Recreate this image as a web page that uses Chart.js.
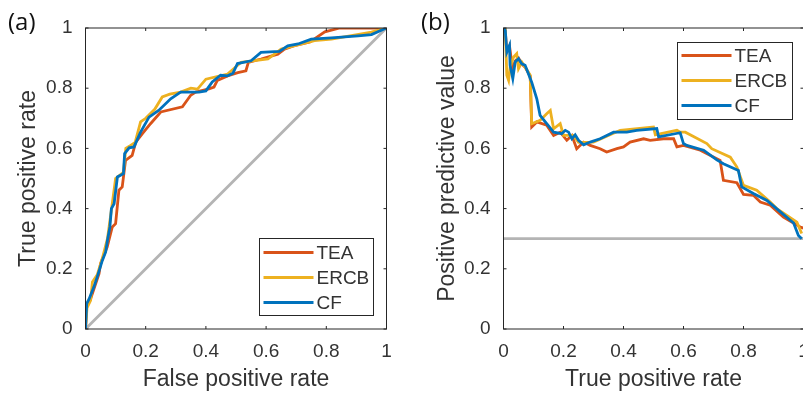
<!DOCTYPE html>
<html><head><meta charset="utf-8">
<script src="https://cdn.jsdelivr.net/npm/chart.js@4.4.0/dist/chart.umd.min.js"></script>
<style>
html,body{margin:0;padding:0;background:#fff;width:803px;height:396px;overflow:hidden;position:relative}
#ca{position:absolute;left:0;top:0}
#cb{position:absolute;left:400px;top:0}
.panel{position:absolute;font-family:"Open Sans",sans-serif;font-size:24px;line-height:1;color:#111}
</style></head>
<body>
<canvas id="ca" width="400" height="396"></canvas>
<canvas id="cb" width="410" height="396"></canvas>
<div class="panel" style="left:8px;top:9px">(a)</div>
<div class="panel" style="left:421px;top:9px">(b)</div>
<script>
// ---------- data ----------
const seriesNames = ['TEA', 'ERCB', 'CF'];
const tickLabels = ['0', '0.2', '0.4', '0.6', '0.8', '1'];

// (a) ROC curves: false positive rate (x) vs true positive rate (y)
const rocTeaX = [0, 0.004, 0.017, 0.045, 0.05, 0.061, 0.072, 0.089, 0.1, 0.111, 0.122, 0.133, 0.155, 0.167, 0.189, 0.216, 0.25, 0.322, 0.349, 0.366, 0.41, 0.427, 0.438, 0.472, 0.506, 0.533, 0.541, 0.583, 0.639, 0.661, 0.694, 0.746, 0.795, 0.845, 1];
const rocTeaY = [0, 0.08, 0.1, 0.184, 0.217, 0.245, 0.272, 0.339, 0.35, 0.461, 0.472, 0.56, 0.577, 0.621, 0.649, 0.682, 0.721, 0.738, 0.776, 0.787, 0.798, 0.804, 0.826, 0.841, 0.852, 0.858, 0.886, 0.897, 0.913, 0.93, 0.941, 0.954, 0.987, 1, 1];
const rocErcbX = [0, 0.005, 0.017, 0.023, 0.039, 0.056, 0.073, 0.089, 0.1, 0.126, 0.134, 0.15, 0.165, 0.183, 0.2, 0.23, 0.255, 0.28, 0.316, 0.35, 0.372, 0.4, 0.472, 0.517, 0.606, 0.65, 0.761, 0.817, 0.95, 1];
const rocErcbY = [0, 0.07, 0.095, 0.156, 0.18, 0.235, 0.3, 0.417, 0.5, 0.52, 0.6, 0.61, 0.62, 0.688, 0.7, 0.73, 0.771, 0.78, 0.787, 0.8, 0.797, 0.83, 0.847, 0.886, 0.897, 0.93, 0.958, 0.963, 0.986, 1];
const rocCfX = [0, 0.004, 0.012, 0.028, 0.039, 0.056, 0.067, 0.073, 0.081, 0.086, 0.095, 0.106, 0.126, 0.13, 0.145, 0.161, 0.183, 0.211, 0.244, 0.283, 0.316, 0.377, 0.4, 0.421, 0.449, 0.472, 0.49, 0.505, 0.55, 0.583, 0.644, 0.672, 0.706, 0.75, 0.817, 0.906, 0.95, 1];
const rocCfY = [0, 0.084, 0.1, 0.14, 0.173, 0.228, 0.256, 0.295, 0.339, 0.4, 0.416, 0.505, 0.516, 0.583, 0.602, 0.605, 0.654, 0.704, 0.727, 0.765, 0.787, 0.787, 0.791, 0.821, 0.843, 0.841, 0.85, 0.882, 0.891, 0.919, 0.922, 0.941, 0.947, 0.963, 0.967, 0.974, 0.978, 1];
const chanceX = [0, 1];
const chanceY = [0, 1];

// (b) precision-recall: true positive rate (x) vs positive predictive value (y)
const prTeaX = [0.002, 0.006, 0.011, 0.02, 0.031, 0.039, 0.05, 0.061, 0.072, 0.089, 0.094, 0.111, 0.144, 0.167, 0.189, 0.211, 0.228, 0.244, 0.267, 0.289, 0.322, 0.344, 0.378, 0.4, 0.422, 0.467, 0.489, 0.533, 0.567, 0.578, 0.6, 0.656, 0.711, 0.722, 0.733, 0.778, 0.8, 0.833, 0.856, 0.889, 0.933, 0.989, 1];
const prTeaY = [1.0, 0.99, 0.92, 0.94, 0.86, 0.89, 0.9, 0.88, 0.87, 0.84, 0.671, 0.688, 0.677, 0.643, 0.654, 0.627, 0.643, 0.599, 0.621, 0.61, 0.599, 0.588, 0.599, 0.605, 0.621, 0.632, 0.627, 0.632, 0.632, 0.605, 0.61, 0.594, 0.566, 0.56, 0.494, 0.486, 0.447, 0.444, 0.422, 0.411, 0.372, 0.339, 0.335];
const prErcbX = [0.002, 0.006, 0.011, 0.017, 0.022, 0.033, 0.044, 0.05, 0.061, 0.072, 0.089, 0.094, 0.122, 0.144, 0.156, 0.167, 0.189, 0.2, 0.233, 0.25, 0.3, 0.389, 0.5, 0.506, 0.578, 0.589, 0.606, 0.678, 0.694, 0.756, 0.778, 0.8, 0.844, 0.889, 0.911, 0.978, 0.994];
const prErcbY = [0.99, 1.0, 0.843, 0.826, 0.87, 0.903, 0.915, 0.865, 0.887, 0.87, 0.843, 0.682, 0.693, 0.715, 0.726, 0.665, 0.682, 0.643, 0.643, 0.62, 0.621, 0.66, 0.671, 0.645, 0.66, 0.654, 0.654, 0.616, 0.599, 0.571, 0.538, 0.477, 0.461, 0.422, 0.4, 0.355, 0.317];
const prCfX = [0.002, 0.006, 0.011, 0.02, 0.022, 0.031, 0.039, 0.05, 0.061, 0.072, 0.094, 0.111, 0.122, 0.144, 0.167, 0.194, 0.206, 0.217, 0.228, 0.239, 0.25, 0.267, 0.289, 0.322, 0.367, 0.411, 0.444, 0.511, 0.517, 0.589, 0.6, 0.611, 0.667, 0.711, 0.733, 0.783, 0.794, 0.833, 0.878, 0.922, 0.967, 0.983, 0.994];
const prCfY = [1.0, 0.992, 0.92, 0.942, 0.876, 0.832, 0.887, 0.898, 0.881, 0.876, 0.82, 0.765, 0.71, 0.682, 0.654, 0.649, 0.66, 0.654, 0.632, 0.645, 0.627, 0.612, 0.621, 0.632, 0.654, 0.654, 0.66, 0.666, 0.638, 0.652, 0.616, 0.61, 0.594, 0.562, 0.549, 0.527, 0.472, 0.45, 0.427, 0.39, 0.352, 0.311, 0.3];
const baselineX = [0, 1];
const baselineY = [0.3, 0.3];

// ---------- style ----------
const COLORS = ['#D95319', '#EDB120', '#0072BD'];
const GRAY = '#B4B4B4';
const AXIS = '#262626';
const TXT = '#333333';
const FONT = '"Liberation Sans", Arial, sans-serif';

const pts = (xs, ys) => xs.map((v, i) => ({x: v, y: ys[i]}));

function lineSet(label, xs, ys, color, order, legend) {
  return {label, data: pts(xs, ys), borderColor: color, backgroundColor: color,
    borderWidth: 2.8, pointRadius: 0, tension: 0, fill: false, order, inLegend: legend};
}

const boxPlugin = {
  id: 'matlabBox',
  afterDatasetsDraw(chart) {
    const {ctx, chartArea: a, scales: {x, y}} = chart;
    ctx.save();
    ctx.strokeStyle = AXIS; ctx.lineWidth = 1;
    ctx.strokeRect(a.left, a.top, a.right - a.left, a.bottom - a.top);
    const L = 3;
    ctx.beginPath();
    x.ticks.forEach(t => {
      const p = x.getPixelForValue(t.value);
      ctx.moveTo(p, a.bottom); ctx.lineTo(p, a.bottom - L);
      ctx.moveTo(p, a.top); ctx.lineTo(p, a.top + L);
    });
    y.ticks.forEach(t => {
      const p = y.getPixelForValue(t.value);
      ctx.moveTo(a.left, p); ctx.lineTo(a.left + L, p);
      ctx.moveTo(a.right, p); ctx.lineTo(a.right - L, p);
    });
    ctx.stroke();
    ctx.restore();
  }
};

const legendPlugin = {
  id: 'boxLegend',
  afterDraw(chart, args, o) {
    const {ctx} = chart;
    ctx.save();
    ctx.fillStyle = '#fff';
    ctx.fillRect(o.left, o.top, o.width, o.height);
    ctx.strokeStyle = AXIS; ctx.lineWidth = 1;
    ctx.strokeRect(o.left, o.top, o.width, o.height);
    ctx.font = '19px ' + FONT;
    ctx.textBaseline = 'middle';
    ctx.fillStyle = TXT;
    const items = chart.data.datasets.filter(d => d.inLegend);
    items.forEach((d, i) => {
      const yy = o.top + o.firstRow + i * o.rowGap;
      ctx.strokeStyle = d.borderColor; ctx.lineWidth = 2.8;
      ctx.beginPath(); ctx.moveTo(o.left + 4, yy); ctx.lineTo(o.left + 54, yy); ctx.stroke();
      ctx.fillText(d.label, o.left + 57, yy + 1);
    });
    ctx.restore();
  }
};

function makeChart(canvasId, datasets, xTitle, yTitle, yWidth, yTitlePad, padRight, legendBox) {
  return new Chart(document.getElementById(canvasId), {
    type: 'line',
    data: {datasets},
    plugins: [boxPlugin, legendPlugin],
    options: {
      responsive: false, maintainAspectRatio: false, animation: false, events: [],
      layout: {padding: {left: 0, top: 28, right: padRight, bottom: 0}},
      plugins: {legend: {display: false}, tooltip: {enabled: false}, boxLegend: legendBox},
      scales: {
        x: {type: 'linear', min: 0, max: 1,
          grid: {display: false, drawTicks: false}, border: {display: false},
          ticks: {stepSize: 0.2, padding: 11, color: TXT, font: {family: FONT, size: 19},
            maxRotation: 0, callback: (v, i) => tickLabels[i]},
          title: {display: true, text: xTitle, color: TXT, font: {family: FONT, size: 23},
            padding: {top: 0, bottom: 3}},
          afterFit: s => { s.height = 67; s.paddingLeft = 0; s.paddingRight = 0; }},
        y: {type: 'linear', min: 0, max: 1,
          grid: {display: false, drawTicks: false}, border: {display: false},
          ticks: {stepSize: 0.2, padding: 13, color: TXT, font: {family: FONT, size: 19},
            callback: (v, i) => tickLabels[i]},
          title: {display: true, text: yTitle, color: TXT, font: {family: FONT, size: 23},
            padding: {top: yTitlePad, bottom: 0}},
          afterFit: s => { s.width = yWidth; s.paddingTop = 0; s.paddingBottom = 0; }}
      }
    }
  });
}

makeChart('ca', [
  lineSet(seriesNames[0], rocTeaX, rocTeaY, COLORS[0], 2, true),
  lineSet(seriesNames[1], rocErcbX, rocErcbY, COLORS[1], 1, true),
  lineSet(seriesNames[2], rocCfX, rocCfY, COLORS[2], 0, true),
  lineSet('chance', chanceX, chanceY, GRAY, 3, false)
], 'False positive rate', 'True positive rate', 85.5, 15, 13.5,
  {left: 259.5, top: 238.5, width: 114, height: 77, firstRow: 14, rowGap: 25});

makeChart('cb', [
  lineSet(seriesNames[0], prTeaX, prTeaY, COLORS[0], 2, true),
  lineSet(seriesNames[1], prErcbX, prErcbY, COLORS[1], 1, true),
  lineSet(seriesNames[2], prCfX, prCfY, COLORS[2], 0, true),
  lineSet('baseline', baselineX, baselineY, GRAY, 3, false)
], 'True positive rate', 'Positive predictive value', 103.5, 34, 6.5,
  {left: 277.5, top: 42.5, width: 115, height: 77, firstRow: 13, rowGap: 25});
</script>
</body></html>
